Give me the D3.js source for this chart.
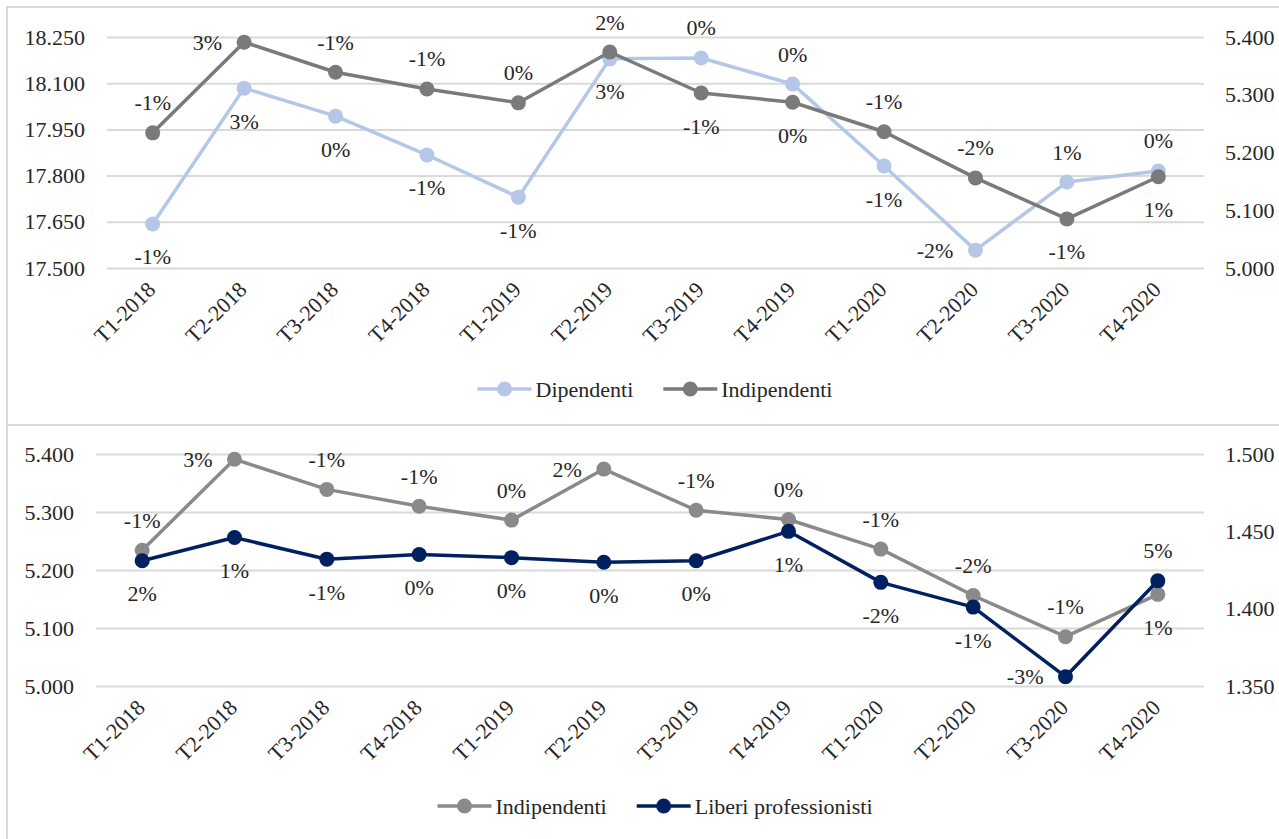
<!DOCTYPE html>
<html>
<head>
<meta charset="utf-8">
<script src="https://cdn.jsdelivr.net/npm/d3@7"></script>
<style>
  body { margin: 0; background: #fff; }
  svg text { font-family: "Liberation Serif", "DejaVu Serif", serif !important; fill: #262626; }
</style>
</head>
<body>
<svg id="chart" width="1279" height="839"></svg>
<script>
// quarters on the x axis
const quarters = ['T1-2018', 'T2-2018', 'T3-2018', 'T4-2018', 'T1-2019', 'T2-2019',
                  'T3-2019', 'T4-2019', 'T1-2020', 'T2-2020', 'T3-2020', 'T4-2020'];

// series values
const dipendenti   = [17643, 18084, 17993, 17867, 17730, 18179, 18182, 18097, 17831, 17558, 17779, 17815];
const indipendenti = [5234, 5391, 5339, 5310, 5286, 5374, 5303, 5287, 5236, 5156, 5085, 5158];
const liberi       = [1431, 1446, 1432, 1435, 1433, 1430, 1431, 1450, 1417, 1401, 1356, 1418];

// data labels (percent changes) and where they sit
const dipLabels    = ['-1%', '3%', '0%', '-1%', '-1%', '3%', '0%', '0%', '-1%', '-2%', '1%', '0%'];
const dipPos       = ['below', 'below', 'below', 'below', 'below', 'below', 'above', 'above', 'below', 'left', 'above', 'above'];
const indLabels    = ['-1%', '3%', '-1%', '-1%', '0%', '2%', '-1%', '0%', '-1%', '-2%', '-1%', '1%'];
const indTopPos    = ['above', 'left', 'above', 'above', 'above', 'above', 'below', 'below', 'above', 'above', 'below', 'below'];
const indBotPos    = ['above', 'left', 'above', 'above', 'above', 'left', 'above', 'above', 'above', 'above', 'above', 'below'];
const liberiLabels = ['2%', '1%', '-1%', '0%', '0%', '0%', '0%', '1%', '-2%', '-1%', '-3%', '5%'];
const liberiPos    = ['below', 'below', 'below', 'below', 'below', 'below', 'below', 'below', 'below', 'below', 'left', 'above'];

// tick values
const topLeftTicks  = [17500, 17650, 17800, 17950, 18100, 18250];
const topRightTicks = [5000, 5100, 5200, 5300, 5400];
const botLeftTicks  = [5000, 5100, 5200, 5300, 5400];
const botRightTicks = [1350, 1400, 1450, 1500];

const it = d3.formatLocale({ decimal: ',', thousands: '.', grouping: [3], currency: ['€', ''] });
const fmt = it.format(',.0f');

const svg = d3.select('#chart');
const FONT = 22;
const FAMILY = '"Liberation Serif", "DejaVu Serif", serif';

function drawPanel(p) {
    const g = svg.append('g').attr('font-family', FAMILY);

    // panel frame
    g.append('rect')
        .attr('x', 7).attr('y', p.frameTop)
        .attr('width', 1300).attr('height', p.frameHeight)
        .attr('fill', 'none')
        .attr('stroke', '#d9d9d9')
        .attr('stroke-width', 2);

    const x = d3.scalePoint().domain(quarters).range([p.left, p.right]).padding(0.5);
    const yL = d3.scaleLinear().domain(d3.extent(p.leftTicks)).range([p.bottom, p.top]);
    const yR = d3.scaleLinear().domain(d3.extent(p.rightTicks)).range([p.bottom, p.top]);

    // left axis + gridlines
    const la = g.append('g')
        .attr('transform', 'translate(' + p.left + ',0)')
        .call(d3.axisLeft(yL).tickValues(p.leftTicks).tickFormat(fmt)
            .tickSize(-(p.right - p.left)).tickPadding(22));
    la.attr('font-family', FAMILY);
    la.select('.domain').remove();
    la.selectAll('line').attr('stroke', '#d9d9d9').attr('stroke-width', 2);
    la.selectAll('text').style('font-size', FONT + 'px').attr('fill', '#262626');

    // right axis
    const ra = g.append('g')
        .attr('transform', 'translate(' + p.right + ',0)')
        .call(d3.axisRight(yR).tickValues(p.rightTicks).tickFormat(fmt).tickSize(0).tickPadding(21));
    ra.attr('font-family', FAMILY);
    ra.select('.domain').remove();
    ra.selectAll('text').style('font-size', FONT + 'px').attr('fill', '#262626');

    // rotated category labels
    g.selectAll('.cat')
        .data(quarters)
        .join('text')
        .attr('class', 'cat')
        .attr('text-anchor', 'end')
        .attr('transform', d => 'translate(' + (x(d) + 4) + ',' + (p.bottom + 23) + ') rotate(-45)')
        .style('font-size', FONT + 'px')
        .text(d => d);

    // lines, markers, labels
    for (const s of p.series) {
        const y = s.axis === 'left' ? yL : yR;
        const line = d3.line()
            .x((d, i) => x(quarters[i]))
            .y(d => y(d));

        g.append('path')
            .attr('d', line(s.values))
            .attr('fill', 'none')
            .attr('stroke', s.color)
            .attr('stroke-width', 3.5)
            .attr('stroke-linejoin', 'round');

        g.selectAll(null)
            .data(s.values)
            .join('circle')
            .attr('cx', (d, i) => x(quarters[i]))
            .attr('cy', d => y(d))
            .attr('r', 7.5)
            .attr('fill', s.color);

        g.selectAll(null)
            .data(s.values)
            .join('text')
            .attr('x', (d, i) => s.pos[i] === 'left' ? x(quarters[i]) - 22 : x(quarters[i]))
            .attr('y', (d, i) => {
                if (s.pos[i] === 'above') return y(d) - 30;
                if (s.pos[i] === 'below') return y(d) + 33;
                return y(d);
            })
            .attr('text-anchor', (d, i) => s.pos[i] === 'left' ? 'end' : 'middle')
            .attr('dominant-baseline', 'central')
            .style('font-size', FONT + 'px')
            .text((d, i) => s.labels[i]);
    }

    // legend, centred under the plot
    const leg = g.append('g');
    let cx = 0;
    p.series.forEach((s, i) => {
        const item = leg.append('g').attr('transform', 'translate(' + cx + ',0)');
        item.append('line')
            .attr('x1', 0).attr('x2', 54)
            .attr('stroke', s.color).attr('stroke-width', 3.5);
        item.append('circle').attr('cx', 27).attr('r', 7.5).attr('fill', s.color);
        const t = item.append('text')
            .attr('x', 58)
            .attr('dominant-baseline', 'central')
            .style('font-size', FONT + 'px')
            .text(s.name);
        cx += 58 + t.node().getComputedTextLength() + 30;
    });
    const legW = cx - 30;
    leg.attr('transform', 'translate(' + (655 - legW / 2) + ',' + p.legendY + ')');
}

drawPanel({
    frameTop: 7, frameHeight: 418,
    left: 107, right: 1204, top: 37, bottom: 268,
    leftTicks: topLeftTicks, rightTicks: topRightTicks,
    legendY: 389,
    series: [
        { name: 'Dipendenti', values: dipendenti, axis: 'left', color: '#b4c7e7', labels: dipLabels, pos: dipPos },
        { name: 'Indipendenti', values: indipendenti, axis: 'right', color: '#7a7a7a', labels: indLabels, pos: indTopPos }
    ]
});

drawPanel({
    frameTop: 425, frameHeight: 420,
    left: 96, right: 1204, top: 454, bottom: 686,
    leftTicks: botLeftTicks, rightTicks: botRightTicks,
    legendY: 806,
    series: [
        { name: 'Indipendenti', values: indipendenti, axis: 'left', color: '#8a8a8a', labels: indLabels, pos: indBotPos },
        { name: 'Liberi professionisti', values: liberi, axis: 'right', color: '#002060', labels: liberiLabels, pos: liberiPos }
    ]
});
</script>
</body>
</html>
